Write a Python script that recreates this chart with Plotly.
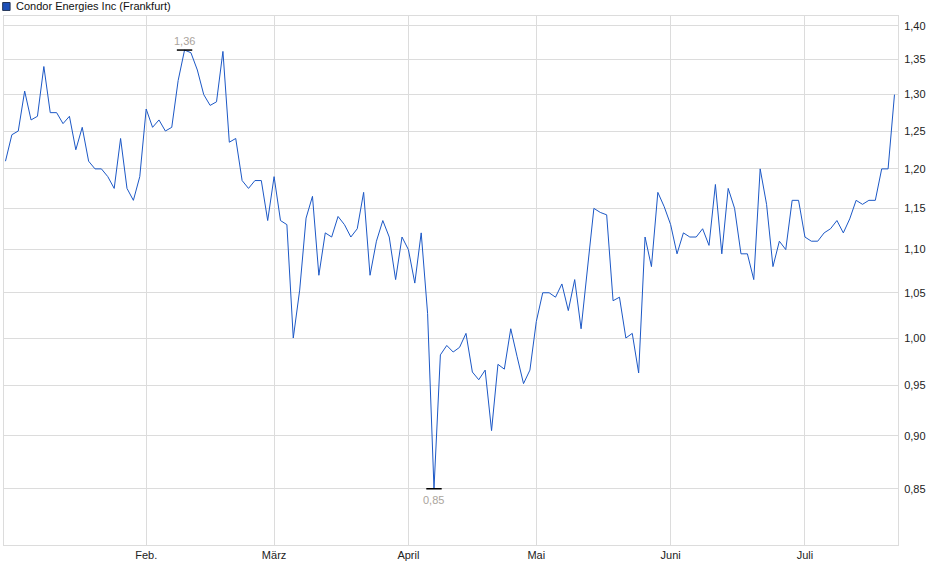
import math
import pandas as pd
import plotly.graph_objects as go

# Condor Energies Inc, Frankfurt, daily close 2025
holidays = ["2025-04-18", "2025-04-21", "2025-05-01"]
trade_days = [d.strftime("%Y-%m-%d") for d in pd.bdate_range("2025-01-02", "2025-07-21")
              if d.strftime("%Y-%m-%d") not in holidays]

prices = [
    1.21, 1.245, 1.25, 1.305, 1.265, 1.27, 1.34, 1.275, 1.275, 1.26,
    1.27, 1.225, 1.255, 1.21, 1.20, 1.20, 1.19, 1.175, 1.24, 1.175,
    1.16, 1.19, 1.28, 1.255, 1.265, 1.25, 1.255, 1.32, 1.364, 1.36,
    1.335, 1.30, 1.285, 1.29, 1.362, 1.235, 1.24, 1.185, 1.175, 1.185,
    1.185, 1.135, 1.19, 1.135, 1.13, 1.00, 1.053, 1.138, 1.165, 1.07,
    1.12, 1.115, 1.14, 1.13, 1.115, 1.125, 1.17, 1.07, 1.11, 1.135,
    1.115, 1.065, 1.115, 1.10, 1.061, 1.12, 1.027, 0.85, 0.982, 0.992,
    0.985, 0.99, 1.005, 0.964, 0.956, 0.966, 0.905, 0.972, 0.967, 1.01,
    0.98, 0.952, 0.966, 1.018, 1.05, 1.05, 1.045, 1.06, 1.03, 1.065,
    1.01, 1.08, 1.15, 1.145, 1.142, 1.041, 1.045, 1.00, 1.005, 0.963,
    1.115, 1.08, 1.17, 1.152, 1.13, 1.095, 1.12, 1.115, 1.115, 1.125,
    1.105, 1.18, 1.095, 1.175, 1.15, 1.095, 1.095, 1.065, 1.20, 1.155,
    1.08, 1.11, 1.10, 1.16, 1.16, 1.115, 1.11, 1.11, 1.12, 1.125,
    1.135, 1.12, 1.137, 1.16, 1.155, 1.16, 1.16, 1.20, 1.20, 1.30,
]

month_ticks = ["2025-02-03", "2025-03-03", "2025-04-01", "2025-05-02", "2025-06-02", "2025-07-01"]
month_labels = ["Feb.", "März", "April", "Mai", "Juni", "Juli"]
y_ticks = [0.85, 0.90, 0.95, 1.00, 1.05, 1.10, 1.15, 1.20, 1.25, 1.30, 1.35, 1.40]
y_labels = [f"{v:.2f}".replace(".", ",") for v in y_ticks]

LINE = "#1c58c6"
GRID = "#dcdcdc"
FONT = "Liberation Sans, Arial, sans-serif"


def de(v):
    return f"{v:.2f}".replace(".", ",")


i_max = prices.index(max(prices))
i_min = prices.index(min(prices))

fig = go.Figure()
fig.add_trace(go.Scatter(
    x=trade_days, y=prices, mode="lines",
    line=dict(color=LINE, width=1), showlegend=False, hoverinfo="x+y",
))
# high / low markers
fig.add_trace(go.Scatter(
    x=[trade_days[i_max], trade_days[i_min]],
    y=[prices[i_max], prices[i_min]],
    mode="markers",
    marker=dict(symbol="line-ew", size=11, line=dict(color="#000000", width=1.5)),
    showlegend=False, hoverinfo="skip",
))
# log axis: annotation y is given in log10 units
fig.add_annotation(x=trade_days[i_max], y=math.log10(prices[i_max]), text=de(prices[i_max]),
                   showarrow=False, yshift=9, font=dict(size=11, color="#aaa49c", family=FONT))
fig.add_annotation(x=trade_days[i_min], y=math.log10(prices[i_min]), text=de(prices[i_min]),
                   showarrow=False, yshift=-11, font=dict(size=11, color="#aaa49c", family=FONT))

# legend-like title
fig.add_shape(type="rect", xref="paper", yref="paper",
              x0=-0.0015, x1=0.0068, y0=1.0105, y1=1.0255,
              fillcolor="#1c4fb8", line=dict(color="#223355", width=1))
fig.add_annotation(xref="paper", yref="paper", x=0.0115, y=1.018, xanchor="left", yanchor="middle",
                   text="Condor Energies Inc (Frankfurt)", showarrow=False,
                   font=dict(size=11, color="#111111", family=FONT))

fig.update_layout(
    width=940, height=579,
    margin=dict(l=4, r=42, t=16, b=34),
    paper_bgcolor="white", plot_bgcolor="white",
    font=dict(family=FONT, size=11, color="#222222"),
    xaxis=dict(
        type="category", range=[-0.23, 139.55],
        tickvals=month_ticks, ticktext=month_labels,
        showgrid=True, gridcolor=GRID, gridwidth=1,
        showline=True, linecolor=GRID, mirror=True,
        ticks="", tickfont=dict(size=11, color="#222222"),
    ),
    yaxis=dict(
        type="log", side="right",
        range=[-0.09691, 0.15076],
        tickvals=y_ticks, ticktext=y_labels,
        showgrid=True, gridcolor=GRID, gridwidth=1,
        showline=True, linecolor=GRID, mirror=True,
        ticks="", ticklabelstandoff=3, tickfont=dict(size=11, color="#222222"),
        zeroline=False,
    ),
)

fig.write_html("out.html", config={"displayModeBar": False},
               post_script="document.body.style.margin='0';")
